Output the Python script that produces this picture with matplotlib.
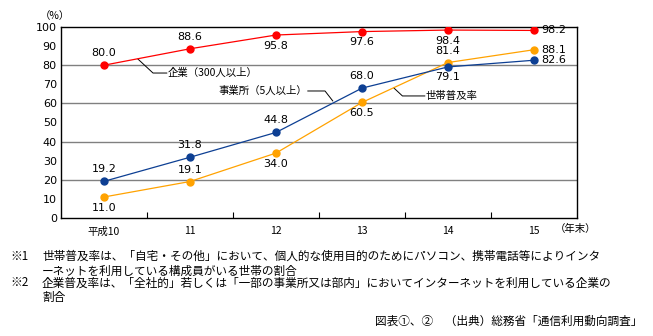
import numpy as np
import matplotlib
matplotlib.use('Agg')
import matplotlib.pyplot as plt

plt.rcParams['font.family'] = ['Noto Sans CJK JP', 'DejaVu Sans']

years = ['平成10', '11', '12', '13', '14', '15']
kigyo = [80.0, 88.6, 95.8, 97.6, 98.4, 98.2]       # 企業（300人以上）
jigyosho = [19.2, 31.8, 44.8, 68.0, 79.1, 82.6]    # 事業所（5人以上）
setai = [11.0, 19.1, 34.0, 60.5, 81.4, 88.1]       # 世帯普及率

# where each value label goes: 'a' above, 'b' below, 'r' right
kigyo_pos = ['a', 'a', 'b', 'b', 'b', 'r']
jigyosho_pos = ['a', 'a', 'a', 'a', 'b', 'r']
setai_pos = ['b', 'a', 'b', 'b', 'a', 'r']

notes = [
	('※1', '世帯普及率は、「自宅・その他」において、個人的な使用目的のためにパソコン、携帯電話等によりインタ'),
	('', 'ーネットを利用している構成員がいる世帯の割合'),
	('※2', '企業普及率は、「全社的」若しくは「一部の事業所又は部内」においてインターネットを利用している企業の'),
	('', '割合'),
]
source = '図表①、②　（出典）総務省「通信利用動向調査」'

RED = '#ff0000'
ORANGE = '#ffa200'
BLUE = '#0d3f93'

fig = plt.figure(figsize=(6.53, 3.36), dpi=100)
ax = fig.add_axes([61/653, 1-218/336, 516/653, 191/336])

xs = np.arange(len(years))

def draw(vals, pos, color):
	ax.plot(xs, vals, color=color, lw=0.9, marker='o', ms=5, mec=color, mfc=color, zorder=3)
	for x, v, p in zip(xs, vals, pos):
		if p == 'a':
			off, ha, va = (0, 5), 'center', 'bottom'
		elif p == 'b':
			off, ha, va = (0, -4), 'center', 'top'
		else:
			off, ha, va = (5, 0), 'left', 'center'
		ax.annotate(f'{v:.1f}', (x, v), xytext=off, textcoords='offset points',
			ha=ha, va=va, fontsize=8, family='DejaVu Sans')

draw(kigyo, kigyo_pos, RED)
draw(setai, setai_pos, ORANGE)
draw(jigyosho, jigyosho_pos, BLUE)

ax.set_xlim(-0.5, 5.5)
ax.set_ylim(0, 100)
ax.set_yticks(np.arange(0, 101, 10))
ax.set_yticklabels([str(v) for v in range(0, 101, 10)], family='DejaVu Sans', fontsize=8)
ax.tick_params(axis='y', length=0, pad=3)
ax.set_xticks(xs)
ax.set_xticklabels(years, fontsize=7.5)
ax.set_xticks(xs[:-1] + 0.5, minor=True)
ax.tick_params(axis='x', which='major', length=0, pad=6)
ax.tick_params(axis='x', which='minor', direction='in', length=4, width=0.8)
for g in (20, 40, 60, 80):
	ax.axhline(g, color='#808080', lw=1, zorder=1)
for s in ax.spines.values():
	s.set_linewidth(1)

# leader lines and series names
ax.plot([0.395, 0.57, 0.73], [83.2, 75.9, 75.9], color='black', lw=0.7)
ax.text(0.74, 75.9, '企業（300人以上）', fontsize=7.5, va='center', ha='left')
ax.plot([2.37, 2.57, 2.66], [66.5, 66.5, 61.3], color='black', lw=0.7)
ax.text(2.36, 66.5, '事業所（5人以上）', fontsize=7.5, va='center', ha='right')
ax.plot([3.37, 3.47, 3.73], [68.1, 63.9, 63.9], color='black', lw=0.7)
ax.text(3.74, 63.9, '世帯普及率', fontsize=7.5, va='center', ha='left')

fig.text(40/653, 1-16/336, '（%）', fontsize=7.5, ha='left', va='center')
fig.text(576/653, 1-229/336, '（年末）', fontsize=7.5, ha='center', va='center')

for (mark, txt), y in zip(notes, [256, 271, 283, 298]):
	if mark:
		fig.text(10/653, 1-y/336, mark, fontsize=8.4, ha='left', va='center')
	fig.text(42/653, 1-y/336, txt, fontsize=8.4, ha='left', va='center')
fig.text(642/653, 1-321/336, source, fontsize=8.4, ha='right', va='center')

fig.savefig('out.png', dpi=100)
